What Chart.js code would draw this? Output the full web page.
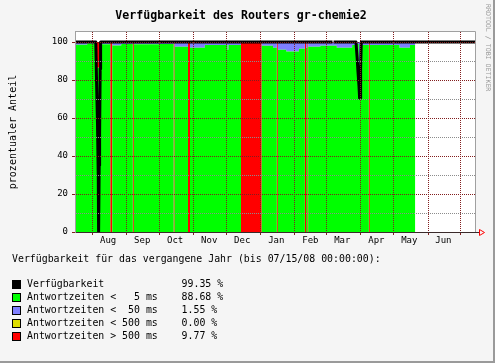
<!DOCTYPE html>
<html>
<head>
<meta charset="utf-8">
<script src="https://cdn.jsdelivr.net/npm/chart.js@4/dist/chart.umd.min.js"></script>
<style>
    html, body { margin: 0; padding: 0; background: #f5f5f5; }
    #wrap { position: relative; width: 495px; height: 363px; overflow: hidden; background: #f5f5f5; }
    #c { position: absolute; left: 0; top: 0; }
    #frame {
        position: absolute; left: 0; top: 0; width: 493px; height: 361px;
        border-right: 2px solid #9a9a9a; border-bottom: 2px solid #9a9a9a;
        pointer-events: none;
    }
    .txt { position: absolute; font-family: "DejaVu Sans Mono", monospace; font-size: 9.9px; line-height: 12px; white-space: pre; color: #000; }
    #title { left: 0; width: 482px; top: 8px; text-align: center; font-weight: bold; font-size: 11.6px; line-height: 14px; }
    #credit { left: 484px; top: 4px; font-size: 6.6px; line-height: 8px; color: #9a9a9a; writing-mode: vertical-rl; }
    .sw { position: absolute; width: 7px; height: 7px; border: 1px solid #000; }
</style>
</head>
<body>
<div id="wrap">
    <canvas id="c" width="495" height="363"></canvas>
    <div id="title" class="txt">Verfügbarkeit des Routers gr-chemie2</div>
    <div id="credit" class="txt">RRDTOOL / TOBI OETIKER</div>
    <div id="legend"></div>
    <div id="frame"></div>
</div>
<script>
/* ---------- Daten (Tag 0 = 15.07.2007) ---------- */

// Monatsgrenzen und Beschriftung der x-Achse
const monthStarts    = [17, 48, 78, 109, 139, 170, 201, 230, 261, 291, 322, 352];
const monthLabelDays = [31, 62, 92, 123, 153, 184, 215, 244, 275, 305, 336];
const monthLabels    = ["Aug", "Sep", "Oct", "Nov", "Dec", "Jan", "Feb", "Mar", "Apr", "May", "Jun"];

// y-Achse
const yTicks      = [0, 5, 10, 15, 20, 25, 30, 35, 40, 45, 50, 55, 60, 65, 70, 75, 80, 85, 90, 95, 100];
const yLabelTicks = [0, 20, 40, 60, 80, 100];

// Antwortzeiten (gestapelt), Werte gelten ab dem jeweiligen Tag
const areaDays = [0, 12, 18, 20.2, 23.5, 33, 34.8, 43, 53.5, 54.4,
                  78, 90.6, 91.5, 103.7, 105.5, 119, 139.5, 140.5, 151.9, 170.7,
                  181, 184.5, 185.4, 193, 204.6, 210, 211, 212.2, 213, 224,
                  239, 253, 256, 259, 260.3, 261.2, 268.2, 269.1, 296, 305.6,
                  310.4];
const resp5   = [98.6, 99.2, 99.0, 86.5, 98.8, 0, 98.2, 99.0, 0, 98.8,
                 99.0, 0, 97.5, 0, 97.0, 98.5, 96.0, 98.5, 0, 98.0,
                 97.0, 0, 96.0, 95.0, 96.5, 0, 97.0, 0, 97.5, 98.0,
                 97.0, 98.5, 99.0, 86.0, 92.0, 98.5, 0, 98.5, 97.0, 98.5,
                 98.5];
const resp50  = [1.4, 0.8, 1.0, 0, 1.2, 0, 1.8, 1.0, 0, 1.2,
                 1.0, 0, 2.5, 0, 3.0, 1.5, 4.0, 1.5, 0, 2.0,
                 3.0, 0, 4.0, 5.0, 3.5, 0, 3.0, 0, 2.5, 2.0,
                 3.0, 1.5, 1.0, 14.0, 0, 1.5, 0, 1.5, 3.0, 1.5,
                 1.5];
const resp500 = [0, 0, 0, 0, 0, 0, 0, 0, 0, 0,
                 0, 0, 0, 0, 0, 0, 0, 0, 0, 0,
                 0, 0, 0, 0, 0, 0, 0, 0, 0, 0,
                 0, 0, 0, 0, 0, 0, 0, 0, 0, 0,
                 0];
const respOver = [0, 0, 0, 13.5, 0, 100, 0, 0, 100, 0,
                  0, 100, 0, 100, 0, 0, 0, 0, 100, 0,
                  0, 100, 0, 0, 0, 100, 0, 100, 0, 0,
                  0, 0, 0, 0, 8, 0, 100, 0, 0, 0,
                  0];

// Verfügbarkeit (Linie)
const availDays   = [0, 19.82, 20.55, 21.37, 22.09, 22.28, 22.46, 22.91, 23.28, 23.82, 24.19,
                     235.1, 235.6, 236.1,
                     256.5, 257.5, 258.35, 259.2, 259.77, 260.2, 260.7, 261.3, 366];
const availValues = [100, 100, 78, 57, 28, 0, 0, 35, 52, 86, 100,
                     100, null, 100,
                     100, 92, 84, 77, 70.5, 70.5, 86, 100, 100];

// Legende
const legendNames  = ["Verfügbarkeit", "Antwortzeiten <   5 ms", "Antwortzeiten <  50 ms",
                      "Antwortzeiten < 500 ms", "Antwortzeiten > 500 ms"];
const legendValues = ["99.35", "88.68", "1.55", "0.00", "9.77"];

/* ---------- Stil ---------- */
const COL_AVAIL = "#000000";
const COL_5     = "#00ff00";
const COL_50    = "#7f7fff";
const COL_500   = "#dddd00";
const COL_OVER  = "#ff0000";
const MGRID = "#821e1e";
const GRID  = "#8c8c8c";
const FONT  = "DejaVu Sans Mono";

/* ---------- Legende (Text) ---------- */
function buildLegend() {
    const box = document.getElementById("legend");
    const head = document.createElement("div");
    head.className = "txt";
    head.style.left = "12px";
    head.style.top = "253px";
    head.textContent = "Verfügbarkeit für das vergangene Jahr (bis 07/15/08 00:00:00):";
    box.appendChild(head);

    const colors = [COL_AVAIL, COL_5, COL_50, COL_500, COL_OVER];
    for (let i = 0; i < legendNames.length; i++) {
        const cy = 284.3 + i * 13;
        const sw = document.createElement("div");
        sw.className = "sw";
        sw.style.left = "12px";
        sw.style.top = (cy - 4.5) + "px";
        sw.style.background = colors[i];
        box.appendChild(sw);

        const t = document.createElement("div");
        t.className = "txt";
        t.style.left = "27px";
        t.style.top = (cy - 6.5) + "px";
        t.textContent = legendNames[i].padEnd(26, " ") + legendValues[i] + " %";
        box.appendChild(t);
    }
}

/* ---------- Hintergrund, Rahmen, Pfeil ---------- */
const rrdFrame = {
    id: "rrdFrame",
    beforeDraw(chart) {
        const { ctx, chartArea: a } = chart;
        ctx.save();
        ctx.fillStyle = "#ffffff";
        ctx.fillRect(a.left, a.top, a.right - a.left, a.bottom - a.top);
        ctx.restore();
    },
    afterDraw(chart) {
        const { ctx, chartArea: a } = chart;
        ctx.save();
        ctx.strokeStyle = "#a0a0a0";
        ctx.lineWidth = 1;
        ctx.beginPath();
        ctx.moveTo(a.left, a.top - 0.5);
        ctx.lineTo(a.right + 0.5, a.top - 0.5);
        ctx.lineTo(a.right + 0.5, a.bottom);
        ctx.stroke();

        // x-Achse verlängern + Pfeil
        ctx.strokeStyle = "#3a2a2a";
        ctx.beginPath();
        ctx.moveTo(a.right, a.bottom + 0.5);
        ctx.lineTo(a.right + 4, a.bottom + 0.5);
        ctx.stroke();
        ctx.strokeStyle = "#ff0000";
        ctx.beginPath();
        ctx.moveTo(a.right + 4.5, a.bottom - 2.5);
        ctx.lineTo(a.right + 4.5, a.bottom + 3.5);
        ctx.lineTo(a.right + 9.5, a.bottom + 0.5);
        ctx.closePath();
        ctx.stroke();
        ctx.restore();
    }
};

function pts(xs, ys) {
    return xs.map((x, i) => ({ x: x, y: ys[i] }));
}

function areaSet(label, ys, color, fill) {
    return {
        label: label,
        data: pts(areaDays, ys),
        stepped: true,
        fill: fill,
        backgroundColor: color,
        borderColor: "transparent",
        borderWidth: 0,
        pointRadius: 0,
        stack: "resp",
        order: 1
    };
}

function initChart() {
    buildLegend();

    const isMajorY = c => c.tick && yLabelTicks.includes(c.tick.value);
    const isMonth  = c => c.tick && monthStarts.includes(c.tick.value);

    new Chart(document.getElementById("c"), {
        type: "line",
        data: {
            datasets: [
                {
                    label: legendNames[0],
                    data: pts(availDays, availValues),
                    borderColor: COL_AVAIL,
                    borderWidth: 3,
                    borderJoinStyle: "round",
                    pointRadius: 0,
                    fill: false,
                    tension: 0,
                    spanGaps: false,
                    stack: "avail",
                    order: 0
                },
                areaSet(legendNames[1], resp5, COL_5, "origin"),
                areaSet(legendNames[2], resp50, COL_50, "-1"),
                areaSet(legendNames[3], resp500, COL_500, "-1"),
                areaSet(legendNames[4], respOver, COL_OVER, "-1")
            ]
        },
        options: {
            responsive: false,
            animation: false,
            events: [],
            layout: { padding: { left: 0, top: 32, right: 20, bottom: 111 } },
            plugins: {
                legend: { display: false },
                tooltip: { enabled: false },
                title: { display: false }
            },
            scales: {
                x: {
                    type: "linear",
                    min: 0.9,
                    max: 364.74,
                    afterBuildTicks: s => {
                        s.ticks = monthStarts.concat(monthLabelDays)
                            .sort((a, b) => a - b)
                            .map(v => ({ value: v }));
                    },
                    afterFit: s => { s.height = 20; },
                    ticks: {
                        autoSkip: false,
                        maxRotation: 0,
                        padding: 0,
                        color: "#000",
                        font: { family: FONT, size: 9 },
                        callback: v => {
                            const i = monthLabelDays.indexOf(v);
                            return i >= 0 ? monthLabels[i] : "";
                        }
                    },
                    grid: {
                        z: 1,
                        lineWidth: 1,
                        color: c => isMonth(c) ? MGRID : "transparent",
                        tickColor: c => isMonth(c) ? MGRID : "transparent",
                        tickLength: 3,
                        tickBorderDash: []
                    },
                    border: { display: true, z: 2, color: "#3a2a2a", width: 1, dash: [1, 1] }
                },
                y: {
                    stacked: true,
                    min: 0,
                    max: 105.3,
                    afterBuildTicks: s => {
                        s.ticks = yTicks.map(v => ({ value: v }));
                    },
                    afterFit: s => { s.width = 75; },
                    ticks: {
                        padding: 4,
                        color: "#000",
                        font: { family: FONT, size: 9 },
                        callback: v => yLabelTicks.includes(v) ? String(v) : ""
                    },
                    grid: {
                        z: 1,
                        lineWidth: 1,
                        color: c => isMajorY(c) ? MGRID : GRID,
                        tickColor: c => isMajorY(c) ? MGRID : "transparent",
                        tickLength: 3,
                        tickBorderDash: []
                    },
                    border: { display: true, z: 2, color: "#a0a0a0", width: 1, dash: [1, 1] },
                    title: {
                        display: true,
                        text: "prozentualer Anteil",
                        color: "#000",
                        font: { family: FONT, size: 10 },
                        padding: { top: 7, bottom: 0 }
                    }
                }
            }
        },
        plugins: [rrdFrame]
    });
}

initChart();
</script>
</body>
</html>
